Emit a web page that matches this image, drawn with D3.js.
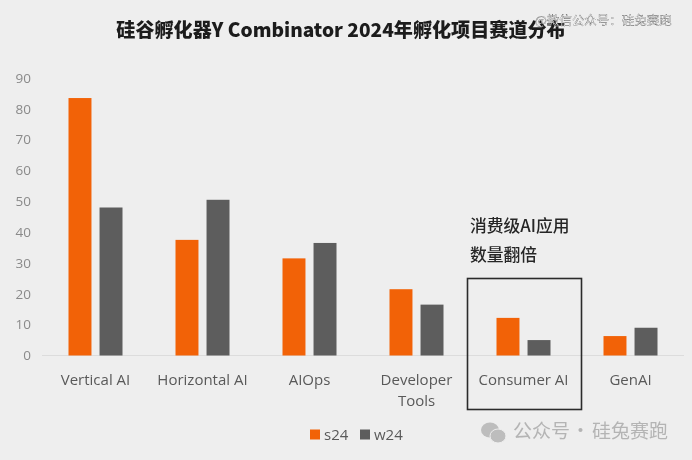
<!DOCTYPE html>
<html>
<head>
<meta charset="utf-8">
<script src="https://cdnjs.cloudflare.com/ajax/libs/d3/7.8.5/d3.min.js"></script>
<style>
html,body{margin:0;padding:0;background:#eeeeee;}
svg{display:block;filter:blur(0.35px);}
text{font-family:"Noto Sans CJK SC","Noto Sans",sans-serif;}
</style>
</head>
<body>
<div id="chart"></div>
<script>
var categories=['Vertical AI','Horizontal AI','AIOps','Developer Tools','Consumer AI','GenAI'];
var s24=[83.5,37.5,31.5,21.5,12.2,6.3];
var w24=[48,50.5,36.5,16.5,5,9];
var seriesNames=['s24','w24'];
var seriesColors=['#f26207','#5d5d5d'];
var yTicks=[0,10,20,30,40,50,60,70,80,90];
var title='硅谷孵化器Y Combinator 2024年孵化项目赛道分布';
var note=['消费级AI应用','数量翻倍'];

var width=692,height=460;
var svg=d3.select('#chart').append('svg').attr('width',width).attr('height',height);

var x=d3.scaleBand().domain(categories).range([42,684]);
var xInner=d3.scaleBand().domain(seriesNames).range([26.5,80.5]).paddingInner(0.26);
var y=d3.scaleLinear().domain([0,90]).range([355.5,78]);

svg.append('text').attr('x',341).attr('y',37).attr('text-anchor','middle')
  .attr('font-size',19.1).attr('font-weight',900).attr('fill','#1c1c1c').text(title);

//y axis, labels only
var yAxis=svg.append('g').attr('transform','translate(31,0)')
  .call(d3.axisLeft(y).tickValues(yTicks).tickSize(0).tickPadding(0));
yAxis.select('.domain').remove();
yAxis.selectAll('text').attr('font-size',13.5).attr('fill','#8a8a8a').style('font-family','"Open Sans",sans-serif');

//baseline
svg.append('line').attr('x1',x.range()[0]).attr('x2',x.range()[1])
  .attr('y1',y(0)).attr('y2',y(0)).attr('stroke','#dcdcdc').attr('stroke-width',1);

var groups=svg.selectAll('.cat').data(categories).enter().append('g')
  .attr('class','cat').attr('transform',function(d){return 'translate('+x(d)+',0)';});

seriesNames.forEach(function(name,si){
  var vals=si==0?s24:w24;
  groups.append('rect')
    .attr('x',xInner(name))
    .attr('width',xInner.bandwidth())
    .attr('y',function(d,i){return y(vals[i]);})
    .attr('height',function(d,i){return y(0)-y(vals[i]);})
    .attr('fill',seriesColors[si]);
});

//category labels, Developer Tools wraps to two lines
groups.each(function(d){
  var g=d3.select(this);
  var lines=d=='Developer Tools'?['Developer','Tools']:[d];
  lines.forEach(function(t,i){
    g.append('text').attr('x',x.bandwidth()/2).attr('y',385+i*21)
      .attr('text-anchor','middle').attr('font-size',15).attr('fill','#595959')
      .style('font-family','"Open Sans",sans-serif').text(t);
  });
});

//highlight box
svg.append('rect').attr('x',x('Consumer AI')-2.5).attr('y',278.5)
  .attr('width',114).attr('height',131)
  .attr('fill','none').attr('stroke','#2b2b2b').attr('stroke-width',1.6);

note.forEach(function(t,i){
  svg.append('text').attr('x',470).attr('y',232+i*29).attr('font-size',16.8)
    .attr('font-weight',500).attr('fill','#262626').text(t);
});

//legend
var legendX=[310,360];
seriesNames.forEach(function(name,i){
  svg.append('rect').attr('x',legendX[i]).attr('y',429.5).attr('width',10).attr('height',10)
    .attr('fill',seriesColors[i]);
  svg.append('text').attr('x',legendX[i]+14).attr('y',440).attr('font-size',15)
    .attr('fill','#595959').style('font-family','"Open Sans",sans-serif').text(name);
});

//watermarks
svg.append('text').attr('x',535).attr('y',25).attr('font-size',12.5)
  .attr('fill','#ffffff').attr('stroke','#333333').attr('stroke-width',0.25)
  .text('@微信公众号：硅兔赛跑');

var mark=svg.append('g').attr('fill','#bdbdbd');
mark.append('ellipse').attr('cx',490).attr('cy',430).attr('rx',9).attr('ry',7.5);
mark.append('ellipse').attr('cx',498).attr('cy',436).attr('rx',8).attr('ry',7).attr('stroke','#eeeeee').attr('stroke-width',1);
var markText=svg.append('text').attr('y',438).attr('font-size',19).attr('fill','#b4b4b4');
markText.append('tspan').attr('x',513).text('公众号');
markText.append('tspan').attr('x',571).text('·');
markText.append('tspan').attr('x',592).text('硅兔赛跑');
</script>
</body>
</html>
